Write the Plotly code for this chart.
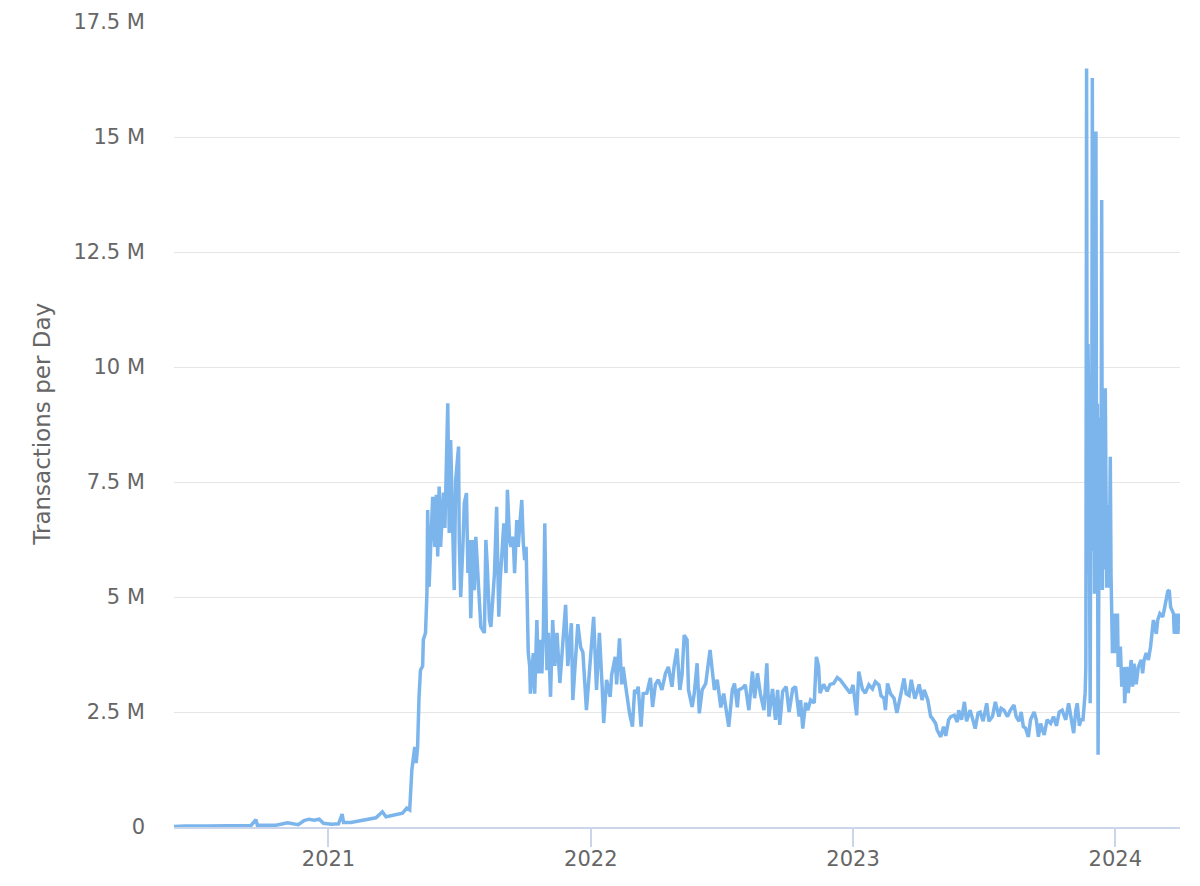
import plotly.graph_objects as go

dates = [
    "2020-05-31", "2020-06-15", "2020-07-15", "2020-08-15", "2020-09-15", "2020-09-22", "2020-09-24",
    "2020-10-20", "2020-11-05", "2020-11-20", "2020-11-28", "2020-12-05", "2020-12-12", "2020-12-19",
    "2020-12-25", "2021-01-05", "2021-01-15", "2021-01-20", "2021-01-22", "2021-02-01", "2021-02-09",
    "2021-02-18", "2021-02-27", "2021-03-08", "2021-03-17", "2021-03-22", "2021-03-27", "2021-04-14",
    "2021-04-20", "2021-04-24", "2021-04-27", "2021-05-01", "2021-05-03", "2021-05-05", "2021-05-07",
    "2021-05-09", "2021-05-12", "2021-05-13", "2021-05-16", "2021-05-18", "2021-05-19", "2021-05-21",
    "2021-05-24", "2021-05-26", "2021-05-29", "2021-05-31", "2021-06-02", "2021-06-04", "2021-06-06",
    "2021-06-10", "2021-06-12", "2021-06-16", "2021-06-18", "2021-06-20", "2021-06-23", "2021-06-25",
    "2021-06-27", "2021-07-01", "2021-07-02", "2021-07-04", "2021-07-07", "2021-07-09", "2021-07-12",
    "2021-07-14", "2021-07-16", "2021-07-18", "2021-07-21", "2021-07-23", "2021-07-25", "2021-07-28",
    "2021-07-30", "2021-08-01", "2021-08-06", "2021-08-08", "2021-08-10", "2021-08-13", "2021-08-15",
    "2021-08-17", "2021-08-20", "2021-08-23", "2021-08-26", "2021-08-28", "2021-08-31", "2021-09-02",
    "2021-09-05", "2021-09-07", "2021-09-10", "2021-09-12", "2021-09-15", "2021-09-17", "2021-09-20",
    "2021-09-22", "2021-09-24", "2021-09-27", "2021-09-29", "2021-10-01", "2021-10-03", "2021-10-06",
    "2021-10-08", "2021-10-09", "2021-10-13", "2021-10-15", "2021-10-18", "2021-10-20", "2021-10-22",
    "2021-10-25", "2021-10-27", "2021-10-29", "2021-11-01", "2021-11-03", "2021-11-06", "2021-11-09",
    "2021-11-12", "2021-11-15", "2021-11-19", "2021-11-23", "2021-11-27", "2021-11-30", "2021-12-05",
    "2021-12-07", "2021-12-10", "2021-12-14", "2021-12-18", "2021-12-21", "2021-12-26", "2021-12-31",
    "2022-01-05", "2022-01-09", "2022-01-13", "2022-01-17", "2022-01-19", "2022-01-23", "2022-01-28",
    "2022-01-30", "2022-02-04", "2022-02-06", "2022-02-10", "2022-02-13", "2022-02-15", "2022-02-20",
    "2022-02-24", "2022-02-28", "2022-03-03", "2022-03-06", "2022-03-08", "2022-03-12", "2022-03-15",
    "2022-03-20", "2022-03-25", "2022-03-28", "2022-04-01", "2022-04-05", "2022-04-10", "2022-04-15",
    "2022-04-19", "2022-04-24", "2022-04-27", "2022-05-01", "2022-05-05", "2022-05-08", "2022-05-11",
    "2022-05-15", "2022-05-17", "2022-05-22", "2022-05-25", "2022-05-29", "2022-06-01", "2022-06-05",
    "2022-06-10", "2022-06-16", "2022-06-19", "2022-06-22", "2022-06-26", "2022-07-01", "2022-07-05",
    "2022-07-10", "2022-07-12", "2022-07-17", "2022-07-20", "2022-07-24", "2022-07-26", "2022-07-31",
    "2022-08-04", "2022-08-09", "2022-08-14", "2022-08-17", "2022-08-21", "2022-08-25", "2022-08-30",
    "2022-09-03", "2022-09-06", "2022-09-11", "2022-09-15", "2022-09-18", "2022-09-21", "2022-09-25",
    "2022-09-30", "2022-10-04", "2022-10-09", "2022-10-13", "2022-10-18", "2022-10-20", "2022-10-23",
    "2022-10-27", "2022-10-30", "2022-11-03", "2022-11-08", "2022-11-11", "2022-11-14", "2022-11-16",
    "2022-11-21", "2022-11-26", "2022-11-30", "2022-12-05", "2022-12-10", "2022-12-14", "2022-12-19",
    "2022-12-24", "2022-12-28", "2023-01-01", "2023-01-06", "2023-01-09", "2023-01-14", "2023-01-18",
    "2023-01-23", "2023-01-28", "2023-02-01", "2023-02-06", "2023-02-09", "2023-02-13", "2023-02-15",
    "2023-02-18", "2023-02-22", "2023-02-27", "2023-03-03", "2023-03-08", "2023-03-13", "2023-03-16",
    "2023-03-20", "2023-03-23", "2023-03-28", "2023-03-31", "2023-04-03", "2023-04-07", "2023-04-10",
    "2023-04-15", "2023-04-19", "2023-04-21", "2023-04-26", "2023-04-28", "2023-05-03", "2023-05-07",
    "2023-05-10", "2023-05-14", "2023-05-17", "2023-05-22", "2023-05-26", "2023-05-28", "2023-06-01",
    "2023-06-05", "2023-06-08", "2023-06-13", "2023-06-17", "2023-06-20", "2023-06-24", "2023-06-27",
    "2023-07-01", "2023-07-06", "2023-07-09", "2023-07-14", "2023-07-18", "2023-07-23", "2023-07-26",
    "2023-07-30", "2023-08-04", "2023-08-08", "2023-08-13", "2023-08-16", "2023-08-20", "2023-08-23",
    "2023-08-26", "2023-08-29", "2023-09-02", "2023-09-05", "2023-09-10", "2023-09-13", "2023-09-16",
    "2023-09-19", "2023-09-24", "2023-09-28", "2023-10-03", "2023-10-07", "2023-10-11", "2023-10-15",
    "2023-10-19", "2023-10-24", "2023-10-28", "2023-10-31", "2023-11-04", "2023-11-07", "2023-11-09",
    "2023-11-12", "2023-11-14", "2023-11-17", "2023-11-20", "2023-11-21", "2023-11-22", "2023-11-23",
    "2023-11-24", "2023-11-25", "2023-11-26", "2023-11-27", "2023-11-28", "2023-11-29", "2023-11-30",
    "2023-12-01", "2023-12-02", "2023-12-03", "2023-12-04", "2023-12-05", "2023-12-06", "2023-12-07",
    "2023-12-08", "2023-12-09", "2023-12-10", "2023-12-11", "2023-12-12", "2023-12-13", "2023-12-14",
    "2023-12-15", "2023-12-16", "2023-12-17", "2023-12-18", "2023-12-19", "2023-12-20", "2023-12-21",
    "2023-12-22", "2023-12-23", "2023-12-24", "2023-12-25", "2023-12-26", "2023-12-27", "2023-12-28",
    "2023-12-31", "2024-01-02", "2024-01-04", "2024-01-05", "2024-01-08", "2024-01-10", "2024-01-13",
    "2024-01-14", "2024-01-17", "2024-01-19", "2024-01-23", "2024-01-25", "2024-01-27", "2024-01-30",
    "2024-02-02", "2024-02-06", "2024-02-08", "2024-02-10", "2024-02-13", "2024-02-16", "2024-02-19",
    "2024-02-21", "2024-02-23", "2024-02-27", "2024-02-29", "2024-03-03", "2024-03-07", "2024-03-09",
    "2024-03-12", "2024-03-14", "2024-03-16", "2024-03-18", "2024-03-22", "2024-03-23", "2024-03-25",
    "2024-03-28", "2024-03-30", "2024-03-31",
]

# Transactions per day, in millions
tx_millions = [
    0.01, 0.02, 0.02, 0.02, 0.03, 0.16, 0.04,
    0.04, 0.09, 0.05, 0.14, 0.17, 0.15, 0.17,
    0.08, 0.06, 0.07, 0.28, 0.10, 0.10, 0.12,
    0.14, 0.17, 0.20, 0.33, 0.22, 0.24, 0.30,
    0.41, 0.37, 1.24, 1.74, 1.39, 1.74, 2.83,
    3.41, 3.50, 4.07, 4.22, 5.09, 6.89, 5.22,
    6.39, 7.18, 6.09, 7.22, 5.88, 7.40, 6.09,
    7.27, 6.50, 9.21, 6.39, 8.41, 6.40, 5.15,
    7.54, 8.27, 6.20, 5.00, 6.10, 7.04, 7.26,
    5.52, 6.24, 4.54, 6.24, 5.15, 6.31, 5.30,
    4.65, 4.35, 4.22, 6.24, 5.66, 4.50, 4.35,
    4.79, 5.52, 6.96, 4.57, 5.37, 6.24, 6.60,
    5.52, 7.33, 6.24, 6.09, 6.31, 5.52, 6.67,
    6.09, 6.52, 7.11, 6.20, 5.80, 6.09, 3.78,
    3.50, 2.90, 3.78, 2.90, 4.50, 3.34, 4.07,
    3.34, 4.22, 6.60, 3.41, 4.22, 2.83, 4.50,
    3.50, 4.22, 3.13, 3.90, 4.83, 3.50, 4.43,
    2.76, 3.60, 4.41, 3.90, 3.80, 2.54, 3.50,
    4.57, 2.98, 4.22, 3.00, 2.26, 3.20, 2.83,
    3.30, 3.70, 3.10, 4.10, 3.10, 3.48, 2.90,
    2.47, 2.18, 2.98, 2.90, 3.05, 2.18, 2.90,
    2.91, 3.24, 2.61, 3.10, 3.20, 2.98, 3.34,
    3.48, 3.05, 3.50, 3.88, 2.98, 3.30, 4.17,
    4.07, 2.98, 2.61, 2.90, 3.56, 2.47, 2.98,
    3.12, 3.85, 3.40, 2.98, 3.20, 2.60, 2.90,
    2.40, 2.18, 2.98, 3.12, 2.60, 2.98, 3.02,
    3.09, 2.54, 3.38, 2.80, 3.34, 2.90, 2.54,
    3.56, 2.40, 3.00, 2.33, 2.98, 2.22, 2.95,
    3.05, 2.50, 3.00, 3.05, 2.40, 2.76, 2.14,
    2.70, 2.54, 2.76, 2.70, 3.70, 3.50, 2.91,
    3.10, 2.95, 3.10, 3.12, 3.25, 3.20, 3.10,
    3.00, 2.91, 3.09, 2.43, 3.38, 3.00, 2.91,
    3.09, 3.00, 3.16, 3.09, 2.85, 2.80, 2.54,
    3.12, 2.90, 2.80, 2.48, 2.85, 3.23, 2.90,
    2.86, 3.20, 2.79, 2.93, 3.10, 2.76, 2.98,
    2.76, 2.40, 2.37, 2.25, 2.11, 1.96, 2.18,
    1.98, 2.33, 2.40, 2.43, 2.28, 2.54, 2.33,
    2.72, 2.30, 2.54, 2.30, 2.14, 2.48, 2.50,
    2.30, 2.69, 2.30, 2.40, 2.72, 2.40, 2.58,
    2.54, 2.40, 2.54, 2.65, 2.40, 2.30, 2.50,
    2.18, 2.15, 1.96, 2.33, 2.50, 2.33, 1.96,
    2.25, 2.00, 2.33, 2.25, 2.40, 2.20, 2.50,
    2.54, 2.33, 2.69, 2.40, 2.04, 2.54, 2.69,
    2.20, 2.33, 2.33, 2.91, 3.50, 16.49, 5.50,
    10.50, 9.00, 5.80, 2.69, 8.50, 6.00, 16.28,
    7.50, 9.50, 5.07, 8.80, 15.12, 6.00, 9.20,
    1.57, 7.00, 8.90, 5.50, 6.30, 13.63, 5.15,
    9.00, 6.50, 5.60, 9.54, 6.20, 5.20, 7.00,
    6.00, 5.20, 6.20, 8.05, 5.50, 4.50, 3.78,
    4.64, 3.78, 4.64, 3.48, 3.92, 3.05, 3.48,
    2.69, 3.48, 2.91, 3.63, 3.05, 3.55, 3.10,
    3.48, 3.63, 3.34, 3.63, 3.78, 3.63, 3.92,
    4.20, 4.50, 4.20, 4.50, 4.64, 4.57, 4.72,
    5.00, 5.12, 5.15, 4.78, 4.64, 4.20, 4.64,
    4.20, 4.64, 4.40,
]

y_tick_values_m = [0, 2.5, 5, 7.5, 10, 12.5, 15, 17.5]
y_tick_labels = ["0", "2.5 M", "5 M", "7.5 M", "10 M", "12.5 M", "15 M", "17.5 M"]
x_tick_dates = ["2021-01-01", "2022-01-01", "2023-01-01", "2024-01-01"]
x_tick_labels = ["2021", "2022", "2023", "2024"]
y_title = "Transactions per Day"

tx = [v * 1e6 for v in tx_millions]
y_ticks = [v * 1e6 for v in y_tick_values_m]

FONT = "DejaVu Sans"
fig = go.Figure()
fig.add_trace(go.Scatter(
    x=dates, y=tx, mode="lines",
    line=dict(color="#7cb5ec", width=3.5),
    hoverinfo="x+y", showlegend=False,
))

# the page body has an 8px margin, so the figure is sized to fit the window
fig.update_layout(
    width=1192, height=878,
    margin=dict(l=166, r=20, t=14, b=59, autoexpand=False),
    paper_bgcolor="white", plot_bgcolor="white",
    font=dict(family=FONT, color="#666666", size=21),
    showlegend=False,
)
fig.update_xaxes(
    type="date",
    range=[dates[0], dates[-1]],
    tickvals=x_tick_dates, ticktext=x_tick_labels,
    showgrid=False, zeroline=False,
    showline=True, linecolor="#ccd6eb", linewidth=1.5,
    ticks="outside", ticklen=18, tickcolor="#ccd6eb", tickwidth=1.5,
    ticklabelstandoff=-6,
    tickfont=dict(family=FONT, size=21, color="#666666"),
)
fig.update_yaxes(
    range=[0, 17.5e6],
    tickvals=y_ticks, ticktext=y_tick_labels,
    showgrid=True, gridcolor="#e6e6e6", gridwidth=1,
    zeroline=False, showline=False, ticks="",
    ticklabelstandoff=28,
    tickfont=dict(family=FONT, size=21, color="#666666"),
)
fig.add_annotation(
    text=y_title, textangle=-90,
    xref="paper", yref="paper", x=-0.132, y=0.5,
    xanchor="center", yanchor="middle", showarrow=False,
    font=dict(family=FONT, size=23, color="#666666"),
)

fig.write_html("out.html")
